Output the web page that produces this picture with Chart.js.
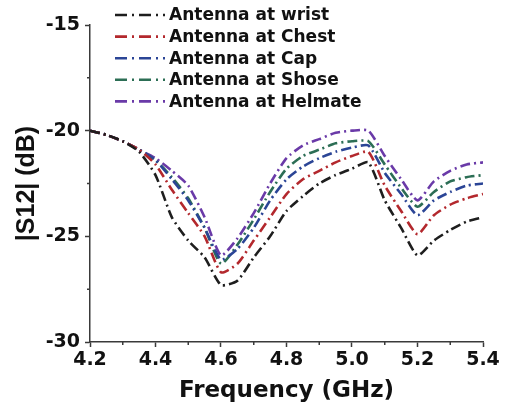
<!DOCTYPE html>
<html>
<head>
<meta charset="utf-8">
<script src="https://cdn.jsdelivr.net/npm/chart.js@4/dist/chart.umd.min.js"></script>
<style>
  html, body { margin: 0; padding: 0; background: #ffffff; }
  #wrap { width: 508px; height: 408px; }
</style>
</head>
<body>
<div id="wrap"><canvas id="c" width="508" height="408"></canvas></div>
<script>
// ---- data ----
const frequency = [4.20, 4.25, 4.30, 4.35, 4.40, 4.45, 4.50, 4.55, 4.60, 4.65, 4.70, 4.75, 4.80,
                   4.85, 4.90, 4.95, 5.00, 5.05, 5.10, 5.15, 5.20, 5.25, 5.30, 5.35, 5.40];
const wrist   = [-20.0, -20.2, -20.5, -21.0, -22.1, -24.1, -25.2, -26.0, -27.3, -27.1, -26.0, -25.0, -23.8,
                 -23.1, -22.5, -22.1, -21.8, -21.5, -23.3, -24.6, -25.9, -25.2, -24.7, -24.3, -24.1];
const chest   = [-20.0, -20.2, -20.5, -20.9, -21.6, -22.8, -23.9, -25.0, -26.7, -26.3, -25.2, -24.1, -23.0,
                 -22.3, -21.9, -21.5, -21.2, -21.0, -22.6, -23.8, -24.9, -24.0, -23.5, -23.2, -23.0];
const cap     = [-20.0, -20.2, -20.5, -20.9, -21.4, -22.3, -23.3, -24.6, -26.1, -25.6, -24.6, -23.3, -22.3,
                 -21.7, -21.3, -21.0, -20.8, -20.7, -22.0, -23.0, -24.0, -23.3, -22.9, -22.6, -22.5];
const shose   = [-20.0, -20.2, -20.5, -20.9, -21.4, -22.2, -23.2, -24.6, -26.3, -25.4, -24.2, -22.9, -21.8,
                 -21.2, -20.9, -20.6, -20.5, -20.5, -21.6, -22.7, -23.6, -22.9, -22.4, -22.2, -22.1];
const helmate = [-20.0, -20.2, -20.5, -20.9, -21.3, -21.9, -22.6, -24.1, -25.9, -25.1, -23.9, -22.5, -21.3,
                 -20.7, -20.4, -20.1, -20.0, -20.0, -21.2, -22.3, -23.3, -22.4, -21.9, -21.6, -21.5];
const seriesLabels = ['Antenna at wrist', 'Antenna at Chest', 'Antenna at Cap', 'Antenna at Shose', 'Antenna at Helmate'];
const xTicks = [4.2, 4.4, 4.6, 4.8, 5.0, 5.2, 5.4];
const yTicks = [-30, -25, -20, -15];
const xMinorTicks = [4.3, 4.5, 4.7, 4.9, 5.1, 5.3];
const yMinorTicks = [-27.5, -22.5, -17.5];

// ---- styling ----
const colors = ['#1e1e1e', '#b3282d', '#2b4596', '#2c6e55', '#6a3aa8'];
const dash = [10, 4, 2, 4];
const axisColor = '#3a3a3a';
const tickFont = { family: 'DejaVu Sans', weight: 'bold', size: 19 };

const allSeries = [wrist, chest, cap, shose, helmate];
const datasets = allSeries.map((s, i) => ({
  label: seriesLabels[i],
  data: frequency.map((f, j) => ({ x: f, y: s[j] })),
  borderColor: colors[i],
  borderWidth: 2.6,
  borderDash: dash,
  pointRadius: 0,
  tension: 0.2,
  fill: false
}));

const minorTicksPlugin = {
  id: 'minorTicks',
  afterDraw(chart) {
    const ctx = chart.ctx, xs = chart.scales.x, ys = chart.scales.y;
    ctx.save();
    ctx.strokeStyle = axisColor;
    ctx.lineWidth = 1.5;
    ctx.beginPath();
    xMinorTicks.forEach(v => {
      const px = xs.getPixelForValue(v);
      ctx.moveTo(px, xs.top); ctx.lineTo(px, xs.top + 3);
    });
    yMinorTicks.forEach(v => {
      const py = ys.getPixelForValue(v);
      ctx.moveTo(ys.right, py); ctx.lineTo(ys.right - 3, py);
    });
    ctx.stroke();
    ctx.restore();
  }
};

const legendPlugin = {
  id: 'insideLegend',
  afterDraw(chart) {
    const ctx = chart.ctx;
    ctx.save();
    ctx.font = 'bold 17px "DejaVu Sans"';
    ctx.textBaseline = 'middle';
    ctx.textAlign = 'left';
    chart.data.datasets.forEach((ds, i) => {
      const y = 15 + i * 21.6;
      ctx.strokeStyle = ds.borderColor;
      ctx.lineWidth = ds.borderWidth;
      ctx.setLineDash([12, 5, 2, 5]);
      ctx.beginPath();
      ctx.moveTo(115, y); ctx.lineTo(165, y);
      ctx.stroke();
      ctx.setLineDash([]);
      ctx.fillStyle = '#111';
      ctx.fillText(ds.label, 169, y + 1);
    });
    ctx.restore();
  }
};

new Chart(document.getElementById('c'), {
  type: 'line',
  data: { datasets },
  plugins: [minorTicksPlugin, legendPlugin],
  options: {
    responsive: false,
    animation: false,
    events: [],
    layout: { padding: { left: 0, right: 25, top: 25, bottom: 0 } },
    plugins: { legend: { display: false }, tooltip: { enabled: false } },
    scales: {
      x: {
        type: 'linear',
        min: 4.2, max: 5.4,
        afterBuildTicks(scale) { scale.ticks = xTicks.map(v => ({ value: v })); },
        afterFit(scale) { scale.height = 66; },
        ticks: {
          font: tickFont, color: '#111', padding: 2,
          callback: v => v.toFixed(1),
          maxRotation: 0, autoSkip: false
        },
        grid: { drawOnChartArea: false, drawTicks: true, tickLength: 5, tickColor: axisColor, tickWidth: 1.5 },
        border: { color: axisColor, width: 1.5 },
        title: {
          display: true, text: 'Frequency (GHz)', color: '#111',
          font: { family: 'DejaVu Sans', weight: 'bold', size: 23 },
          padding: { top: 0, bottom: 3 }
        }
      },
      y: {
        type: 'linear',
        min: -30, max: -15,
        afterBuildTicks(scale) { scale.ticks = yTicks.map(v => ({ value: v })); },
        afterFit(scale) { scale.width = 90; },
        ticks: { font: tickFont, color: '#111', padding: 5, autoSkip: false },
        grid: { drawOnChartArea: false, drawTicks: true, tickLength: 5, tickColor: axisColor, tickWidth: 1.5 },
        border: { color: axisColor, width: 1.5 },
        title: {
          display: true, text: '|S12| (dB)', color: '#111',
          font: { family: 'Liberation Sans', weight: 'bold', size: 25 },
          padding: { top: 12, bottom: 0 }
        }
      }
    }
  }
});
</script>
</body>
</html>
